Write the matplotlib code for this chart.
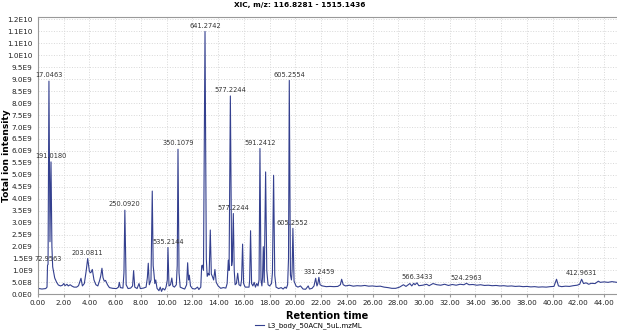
import numpy as np
import matplotlib
matplotlib.use('Agg')
import matplotlib.pyplot as plt

# retention time (min) and total ion intensity (x1e9)
rt = [0.00, 0.30, 0.60, 0.70, 0.74, 0.78, 0.85, 0.93, 1.01, 1.08, 1.14, 1.30, 1.45, 1.58, 1.75,
      1.90, 2.00, 2.10, 2.25, 2.35, 2.50, 2.65, 2.80, 3.00, 3.15, 3.34, 3.45, 3.60, 3.75, 3.86,
      4.00, 4.10, 4.22, 4.35, 4.50, 4.65, 4.80, 4.88, 4.97, 5.05, 5.15, 5.25, 5.40, 5.55, 5.80,
      6.10, 6.25, 6.32, 6.40, 6.60, 6.68, 6.75, 6.85, 7.00, 7.20, 7.35, 7.43, 7.52, 7.70, 7.85,
      7.95, 8.20, 8.40, 8.50, 8.57, 8.65, 8.78, 8.88, 8.95, 9.00, 9.08, 9.15, 9.25, 9.40, 9.50,
      9.60, 9.70, 9.85, 9.95, 10.05, 10.10, 10.18, 10.30, 10.40, 10.48, 10.60, 10.75, 10.82,
      10.88, 10.96, 11.05, 11.25, 11.40, 11.55, 11.63, 11.70, 11.76, 11.85, 12.00, 12.20, 12.40,
      12.50, 12.65, 12.72, 12.77, 12.86, 12.98, 13.08, 13.15, 13.23, 13.30, 13.39, 13.47, 13.55,
      13.65, 13.75, 13.85, 14.00, 14.20, 14.40, 14.60, 14.70, 14.79, 14.85, 14.95, 15.05, 15.10,
      15.18, 15.25, 15.32, 15.42, 15.52, 15.62, 15.75, 15.82, 15.90, 15.98, 16.10, 16.25, 16.40,
      16.45, 16.52, 16.60, 16.70, 16.80, 16.90, 17.00, 17.10, 17.18, 17.25, 17.33, 17.40, 17.45,
      17.51, 17.58, 17.69, 17.78, 17.88, 18.00, 18.15, 18.22, 18.31, 18.40, 18.50, 18.70, 18.90,
      19.05, 19.20, 19.30, 19.40, 19.47, 19.53, 19.62, 19.70, 19.75, 19.81, 19.90, 20.05, 20.20,
      20.40, 20.60, 20.80, 21.00, 21.10, 21.30, 21.45, 21.58, 21.68, 21.75, 21.83, 21.92, 22.10,
      22.40, 22.70, 23.00, 23.30, 23.50, 23.60, 23.72, 23.90, 24.20, 24.50, 24.80, 25.10, 25.40,
      25.70, 26.00, 26.30, 26.60, 26.90, 27.20, 27.50, 27.80, 28.10, 28.40, 28.60, 28.90, 29.05,
      29.20, 29.30, 29.45, 29.60, 29.90, 30.20, 30.40, 30.70, 31.00, 31.30, 31.60, 31.90, 32.20,
      32.50, 32.80, 33.10, 33.30, 33.50, 33.80, 34.10, 34.40, 34.70, 35.00, 35.30, 35.60, 35.90,
      36.20, 36.50, 36.80, 37.10, 37.40, 37.70, 38.00, 38.30, 38.60, 38.90, 39.20, 39.50, 39.80,
      40.10, 40.30, 40.45, 40.70, 41.00, 41.30, 41.60, 41.90, 42.10, 42.25, 42.40, 42.60, 42.80,
      43.00, 43.30, 43.55, 43.70, 44.00, 44.30, 44.60, 45.00]
intensity = [0.25, 0.22, 0.24, 0.30, 1.22, 1.25, 8.92, 2.20, 5.54, 2.00, 1.15, 0.68, 0.50, 0.39, 0.35,
             0.38, 0.45, 0.36, 0.42, 0.35, 0.40, 0.34, 0.30, 0.30, 0.36, 0.67, 0.35, 0.45, 1.00, 1.50,
             0.94, 0.90, 1.04, 0.60, 0.40, 0.35, 0.60, 0.78, 1.09, 0.70, 0.55, 0.58, 0.40, 0.28, 0.25,
             0.24, 0.30, 0.50, 0.28, 0.26, 0.90, 3.52, 0.40, 0.24, 0.26, 0.35, 0.99, 0.30, 0.24, 0.45,
             0.24, 0.26, 0.30, 0.70, 1.30, 0.40, 0.60, 4.32, 1.20, 0.94, 0.45, 0.60, 0.25, 0.15, 0.30,
             0.12, 0.25, 0.18, 0.30, 0.60, 1.96, 0.35, 0.40, 0.68, 0.35, 0.30, 0.40, 1.20,
             6.07, 0.90, 0.30, 0.25, 0.22, 0.40, 1.32, 0.60, 0.80, 0.35, 0.24, 0.22, 0.30,
             0.20, 0.30, 1.18, 1.22, 1.00, 11.00, 1.50, 0.75, 0.88, 0.80, 2.69, 0.85, 0.75,
             0.60, 1.04, 0.50, 0.35, 0.25, 0.28, 0.26, 0.45, 1.43, 1.00, 8.30, 1.20, 1.40,
             3.38, 1.00, 0.40, 0.45, 0.88, 0.40, 0.35, 0.60, 2.10, 0.45, 0.30, 0.30, 0.30,
             0.60, 2.66, 0.45, 0.35, 0.50, 0.30, 0.45, 0.35, 0.60, 6.10, 0.60, 0.35, 0.70,
             1.99, 0.50, 5.12, 1.00, 0.40, 0.35, 0.45, 0.90, 4.98, 0.80, 0.30, 0.24, 0.28,
             0.22, 0.30, 0.25, 0.40, 1.50, 8.95, 0.80, 0.60, 1.00, 2.76, 0.55, 0.35, 0.30,
             0.35, 0.22, 0.21, 0.35, 0.22, 0.25, 0.35, 0.67, 0.35, 0.45, 0.71, 0.40, 0.35,
             0.32, 0.33, 0.32, 0.33, 0.40, 0.63, 0.40, 0.35, 0.38, 0.34, 0.36, 0.35, 0.37,
             0.34, 0.35, 0.33, 0.34, 0.30, 0.28, 0.25, 0.25, 0.30, 0.40, 0.33, 0.45, 0.35,
             0.46, 0.40, 0.48, 0.36, 0.38, 0.42, 0.36, 0.45, 0.40, 0.38, 0.42, 0.37, 0.41,
             0.38, 0.42, 0.40, 0.46, 0.40, 0.41, 0.38, 0.40, 0.37, 0.38, 0.36, 0.37, 0.35,
             0.36, 0.34, 0.35, 0.33, 0.34, 0.32, 0.33, 0.31, 0.32, 0.30, 0.31, 0.30, 0.32,
             0.33, 0.63, 0.35, 0.32, 0.34, 0.33, 0.36, 0.38, 0.42, 0.63, 0.45, 0.48, 0.42,
             0.46, 0.45, 0.55, 0.50, 0.52, 0.50, 0.53, 0.50]

# peak labels (m/z of base peak) and where they sit
peak_rt = [0.76, 0.85, 1.01, 3.86, 6.75, 10.10, 10.88, 12.98, 14.95, 15.18, 17.25, 19.53, 19.81,
           21.83, 29.45, 33.30, 42.25]
peak_text = ['72.9563', '17.0463', '191.0180', '203.0811', '250.0920', '535.2144', '350.1079',
             '641.2742', '577.2244', '577.2244', '591.2412', '605.2554', '605.2552', '331.2459',
             '566.3433', '524.2963', '412.9631']

y_ticks = np.arange(0, 1.2e10, 5e8)
y_tick_labels = ['0.0E0', '5.0E8', '1.0E9', '1.5E9', '2.0E9', '2.5E9', '3.0E9', '3.5E9', '4.0E9',
                 '4.5E9', '5.0E9', '5.5E9', '6.0E9', '6.5E9', '7.0E9', '7.5E9', '8.0E9', '8.5E9',
                 '9.0E9', '9.5E9', '1.0E10', '1.1E10', '1.1E10', '1.2E10']
x_ticks = np.arange(0, 45, 2)

line_color = '#34408f'

fig = plt.figure(figsize=(6.17, 3.35), dpi=100)
ax = fig.add_axes([0.0616, 0.1215, 0.9384, 0.8275])

y = np.array(intensity) * 1e9
ax.plot(rt, y, color=line_color, linewidth=0.8, label='L3_body_50ACN_5uL.mzML')

# annotations above the peaks
for t, txt in zip(peak_rt, peak_text):
    h = np.interp(t, rt, y)
    ax.annotate(txt, (t, h), xytext=(0, 2), textcoords='offset points',
                ha='center', va='bottom', fontsize=4.8, color='#333333')

ax.set_xlim(0, 45)
ax.set_ylim(0, 1.16e10)
ax.set_xticks(x_ticks)
ax.set_xticklabels(['%.2f' % v for v in x_ticks])
ax.set_yticks(y_ticks)
ax.set_yticklabels(y_tick_labels)
ax.tick_params(axis='both', labelsize=5.2, colors='#222222')
ax.tick_params(axis='y', length=0, pad=4)
ax.tick_params(axis='x', length=2, color='#999999', pad=2)

ax.grid(True, color='#d8d8d8', linestyle=':', linewidth=0.7)
ax.set_axisbelow(True)
for side in ['left', 'bottom', 'top']:
    ax.spines[side].set_color('#999999')
    ax.spines[side].set_linewidth(0.8)
ax.spines['right'].set_visible(False)

ax.set_xlabel('Retention time', fontsize=7, fontweight='bold', labelpad=4)
ax.set_ylabel('Total ion intensity', fontsize=6.6, fontweight='bold')
ax.yaxis.set_label_coords(-0.046, 0.5)
fig.suptitle('XIC, m/z: 116.8281 - 1515.1436', x=0.485, y=0.995, fontsize=5.3, fontweight='bold')

fig.legend(loc='lower center', bbox_to_anchor=(0.5, 0.0), frameon=False, fontsize=5,
           handlelength=1.2, handletextpad=0.5)

fig.savefig('out.png', dpi=100)
